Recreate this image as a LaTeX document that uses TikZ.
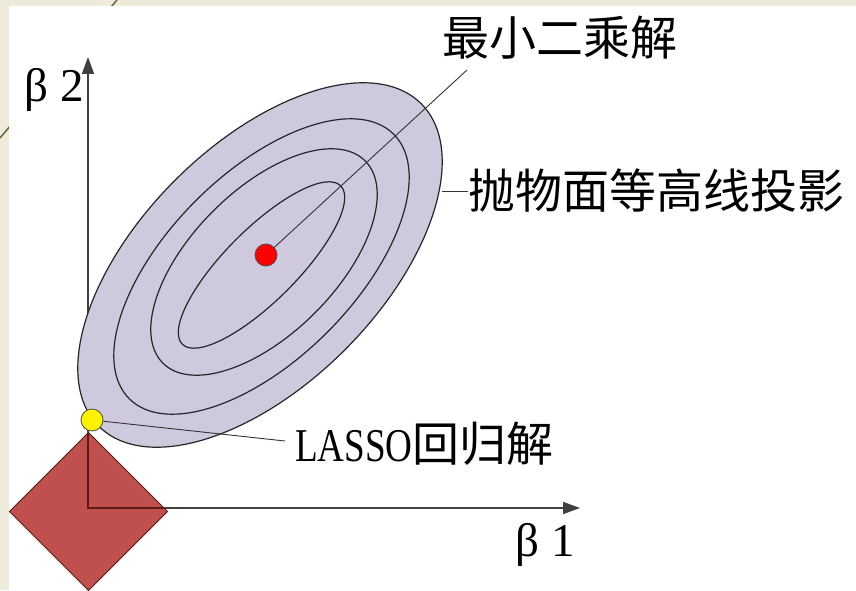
\documentclass[tikz,border=0pt]{standalone}
\usepackage{fontspec}
\setmainfont{Liberation Serif}
\newfontfamily\cjk{Noto Sans CJK SC}
\usetikzlibrary{arrows.meta}
\definecolor{cream}{HTML}{EEEBDA}
\definecolor{olivel}{HTML}{5F6F3A}
\definecolor{lav}{HTML}{CFC9DE}
\definecolor{brick}{HTML}{C0504D}
\definecolor{maroon}{HTML}{5A1A16}
\begin{document}
\begin{tikzpicture}[x=1pt,y=1pt,
  lbl/.style={inner sep=0pt, font=\fontsize{47}{47}\selectfont},
  contour/.style={draw=black!85, line width=1.2pt},
  leader/.style={draw=black!80, line width=0.9pt},
  axisline/.style={draw=black!75, line width=1.6pt, -{Triangle[length=17pt,width=12pt]}},
  dot/.style={circle, draw=black!70, line width=0.8pt, inner sep=0pt, minimum size=22pt}]
\useasboundingbox (0,0) rectangle (856,590);
\fill[cream] (0,0) rectangle (856,590);
\draw[olivel, line width=1.5pt] (0,452) -- (117,590);
\fill[white] (9,0) rectangle (856,584);
% axes
\coordinate (O) at (88,82);
\coordinate (ytip) at (88,533);
\coordinate (xtip) at (580,82);
\draw[axisline] (O) -- (ytip);
\draw[axisline] (O) -- (xtip);
% diamond
\coordinate (dt) at (88.5,157.5);
\coordinate (dr) at (167.5,78.5);
\coordinate (db) at (88.5,-0.5);
\coordinate (dl) at (9.5,78.5);
\draw[fill=brick, draw=maroon, line width=0.8pt] (dt) -- (dr) -- (db) -- (dl) -- cycle;
\draw[maroon, line width=1.6pt] (88,157) -- (O) -- (164,82);
% ellipses
\draw[contour, fill=lav, rotate around={45:(260,325)}] (260,325) ellipse [x radius=228, y radius=120];
\draw[contour, rotate around={45:(261.5,323.5)}] (261.5,323.5) ellipse [x radius=187, y radius=93];
\draw[contour, rotate around={45:(264,328)}] (264,328) ellipse [x radius=143, y radius=72];
\draw[contour, rotate around={45:(261.5,325)}] (261.5,325) ellipse [x radius=112, y radius=36];
% dots
\node[dot, fill=red] (ls) at (266,335) {};
\node[dot, fill=yellow] (la) at (92,170) {};
% labels
\node[lbl, font=\cjk\fontsize{47}{47}\selectfont] (t1) at (560,552) {最小二乘解};
\node[lbl, font=\cjk\fontsize{47}{47}\selectfont, anchor=west] (t2) at (468,399) {抛物面等高线投影};
\node[lbl, anchor=west] (t3) at (295,146) {\scalebox{0.79}[1]{LASSO}{\cjk 回归解}};
\node[lbl] (b2) at (54,500) {β 2};
\node[lbl] (b1) at (545,45) {β 1};
% leaders
\coordinate (e1) at (467,520);
\coordinate (e2) at (442,399);
\coordinate (e3) at (285,149);
\draw[leader] (ls) -- (e1);
\draw[leader] (e2) -- (t2.west);
\draw[leader] (la) -- (e3);
\end{tikzpicture}
\end{document}
